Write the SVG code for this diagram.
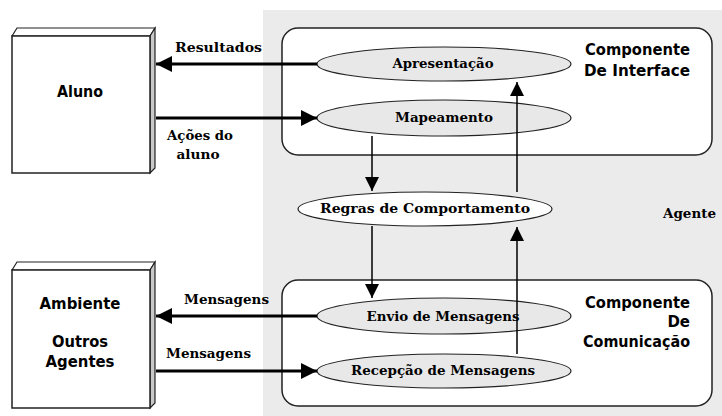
<svg xmlns="http://www.w3.org/2000/svg" width="722" height="416" viewBox="0 0 722 416">
<defs>
<style>
.bgpanel{fill:#ebebeb;stroke:none}
.cont{fill:#ffffff;stroke:#222;stroke-width:1.5}
.ell{fill:#e8e8e8;stroke:#222;stroke-width:1.2}
.ellw{fill:#ffffff;stroke:#222;stroke-width:1.2}
.front{fill:#ffffff;stroke:#222;stroke-width:1.5}
.side{fill:#c8c8c8;stroke:#222;stroke-width:1.2}
.top{fill:#ffffff;stroke:#222;stroke-width:1.2}
.serif{font-family:"DejaVu Serif","Liberation Serif",serif;font-weight:bold;font-size:13px;fill:#000}
.sans{font-family:"DejaVu Sans","Liberation Sans",sans-serif;font-weight:bold;font-size:15px;fill:#000}
.thick{stroke:#000;stroke-width:3;fill:none}
.thin{stroke:#000;stroke-width:1.5;fill:none}
</style>
<marker id="ah" viewBox="0 0 10 10" refX="10" refY="5" markerWidth="19" markerHeight="16" markerUnits="userSpaceOnUse" orient="auto">
<path d="M0,0 L10,5 L0,10 Z" fill="#000"/>
</marker>
<marker id="ahs" viewBox="0 0 10 10" refX="10" refY="5" markerWidth="16" markerHeight="14" markerUnits="userSpaceOnUse" orient="auto">
<path d="M0,0 L10,5 L0,10 Z" fill="#000"/>
</marker>
</defs>
<rect x="0" y="0" width="722" height="416" fill="#ffffff"/>
<rect class="bgpanel" x="263" y="10" width="459" height="406"/>

<g id="aluno">
<polygon class="top" points="12,36 17,28 155,28 150,36"/>
<polygon class="side" points="150,36 155,28 155,168 150,173"/>
<rect class="front" x="12" y="36" width="138" height="137"/>
<text class="sans" x="80" y="97" text-anchor="middle" textLength="46" lengthAdjust="spacingAndGlyphs">Aluno</text>
</g>

<g id="ambiente">
<polygon class="top" points="12,270 17,262 155,262 150,270"/>
<polygon class="side" points="150,270 155,262 155,403 150,408"/>
<rect class="front" x="12" y="270" width="138" height="138"/>
<text class="sans" x="80" y="309" text-anchor="middle" textLength="81" lengthAdjust="spacingAndGlyphs">Ambiente</text>
<text class="sans" x="80" y="347" text-anchor="middle" textLength="56" lengthAdjust="spacingAndGlyphs">Outros</text>
<text class="sans" x="80" y="367" text-anchor="middle" textLength="69" lengthAdjust="spacingAndGlyphs">Agentes</text>
</g>

<g id="componente-interface">
<rect class="cont" x="282" y="28" width="430" height="127" rx="16" ry="16"/>
<text class="sans" x="690" y="55" text-anchor="end" textLength="105" lengthAdjust="spacingAndGlyphs">Componente</text>
<text class="sans" x="690" y="76" text-anchor="end" textLength="106" lengthAdjust="spacingAndGlyphs">De Interface</text>
</g>

<g id="componente-comunicacao">
<rect class="cont" x="282" y="280" width="430" height="126" rx="16" ry="16"/>
<text class="sans" x="690" y="308" text-anchor="end" textLength="105" lengthAdjust="spacingAndGlyphs">Componente</text>
<text class="sans" x="690" y="327" text-anchor="end">De</text>
<text class="sans" x="690" y="347" text-anchor="end" textLength="107" lengthAdjust="spacingAndGlyphs">Comunicação</text>
</g>

<g id="agente">
<text class="serif" x="663" y="218" textLength="53" lengthAdjust="spacingAndGlyphs">Agente</text>
</g>

<g id="apresentacao">
<ellipse class="ell" cx="444" cy="64" rx="127" ry="17"/>
<text class="serif" x="443" y="68" text-anchor="middle" textLength="101" lengthAdjust="spacingAndGlyphs">Apresentação</text>
</g>

<g id="mapeamento">
<ellipse class="ell" cx="444" cy="118" rx="127" ry="18"/>
<text class="serif" x="444" y="122" text-anchor="middle" textLength="98" lengthAdjust="spacingAndGlyphs">Mapeamento</text>
</g>

<g id="regras">
<ellipse class="ellw" cx="425" cy="209" rx="127" ry="17"/>
<text class="serif" x="425" y="213" text-anchor="middle" textLength="210" lengthAdjust="spacingAndGlyphs">Regras de Comportamento</text>
</g>

<g id="envio">
<ellipse class="ell" cx="444" cy="316" rx="127" ry="18"/>
<text class="serif" x="443" y="321" text-anchor="middle" textLength="153" lengthAdjust="spacingAndGlyphs">Envio de Mensagens</text>
</g>

<g id="recepcao">
<ellipse class="ell" cx="444" cy="371" rx="127" ry="17"/>
<text class="serif" x="443" y="375" text-anchor="middle" textLength="184" lengthAdjust="spacingAndGlyphs">Recepção de Mensagens</text>
</g>

<g id="connectors">
<line class="thick" x1="317" y1="64" x2="156" y2="64" marker-end="url(#ah)"/>
<line class="thick" x1="156" y1="118" x2="317" y2="118" marker-end="url(#ah)"/>
<line class="thin" x1="372" y1="136" x2="372" y2="191" marker-end="url(#ahs)"/>
<line class="thin" x1="517" y1="192" x2="517" y2="82" marker-end="url(#ahs)"/>
<line class="thin" x1="372" y1="226" x2="372" y2="298" marker-end="url(#ahs)"/>
<line class="thin" x1="517" y1="354" x2="517" y2="227" marker-end="url(#ahs)"/>
<line class="thick" x1="317" y1="316" x2="156" y2="316" marker-end="url(#ah)"/>
<line class="thick" x1="156" y1="371" x2="317" y2="371" marker-end="url(#ah)"/>
<text class="serif" x="175" y="52" textLength="87" lengthAdjust="spacingAndGlyphs">Resultados</text>
<text class="serif" x="200" y="140" text-anchor="middle" textLength="66" lengthAdjust="spacingAndGlyphs">Ações do</text>
<text class="serif" x="198" y="159" text-anchor="middle" textLength="43" lengthAdjust="spacingAndGlyphs">aluno</text>
<text class="serif" x="184" y="304" textLength="85" lengthAdjust="spacingAndGlyphs">Mensagens</text>
<text class="serif" x="166" y="358" textLength="85" lengthAdjust="spacingAndGlyphs">Mensagens</text>
</g>
</svg>
